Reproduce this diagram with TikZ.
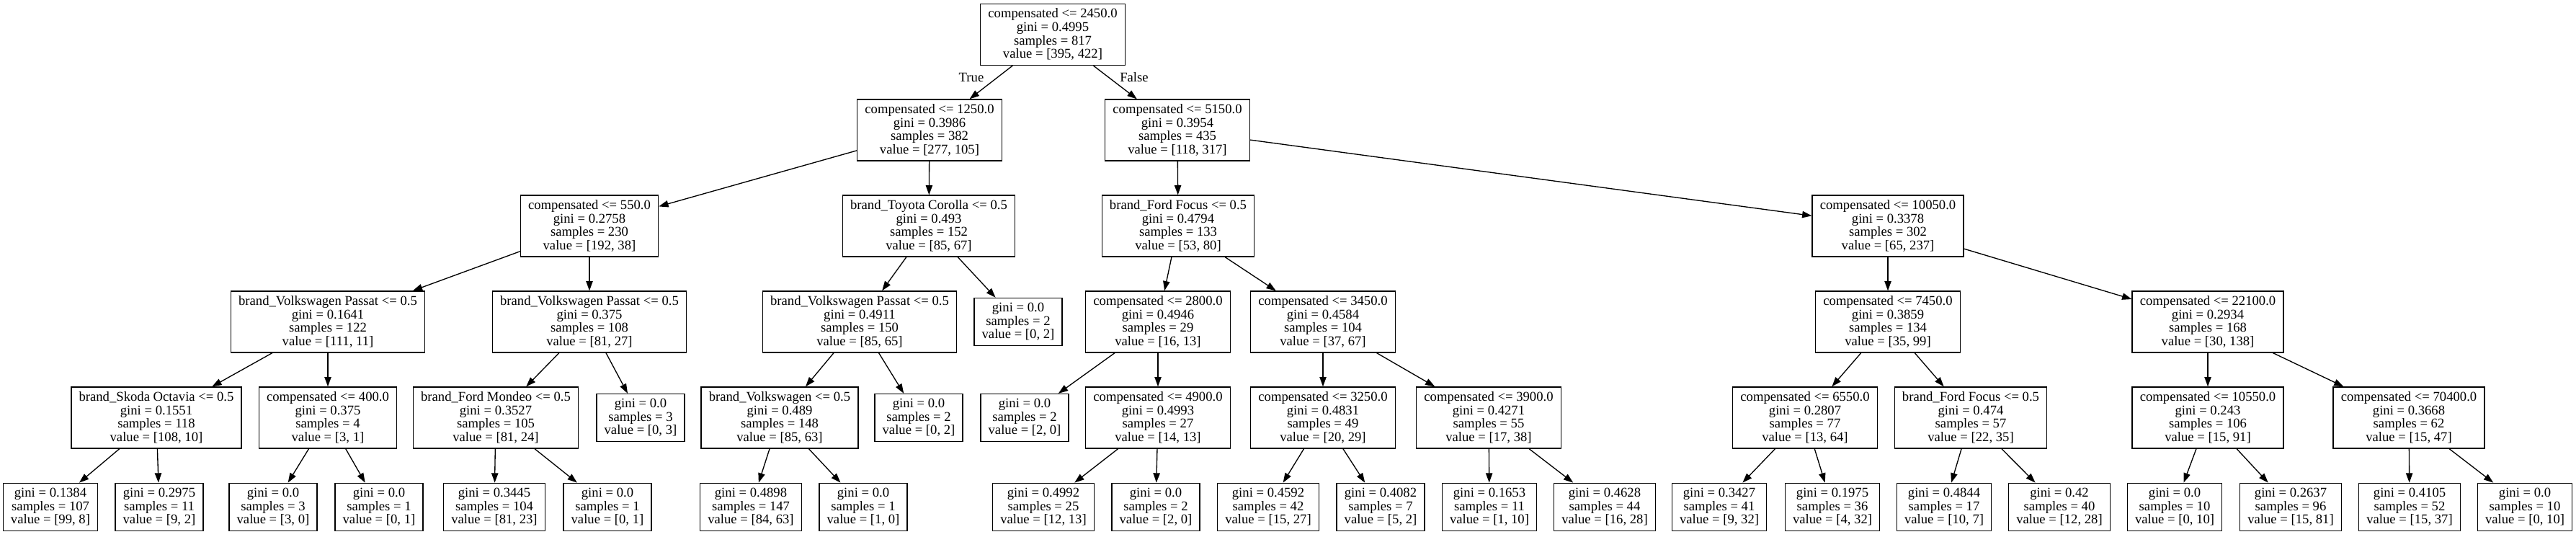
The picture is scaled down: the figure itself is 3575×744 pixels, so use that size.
\documentclass[tikz,border=0pt]{standalone}
\usepackage{fontspec}
\setmainfont{Liberation Serif}
\usetikzlibrary{arrows.meta}
\tikzset{
  splitbox/.style={draw, rectangle, line width=1pt, align=center,
    font=\fontsize{14pt}{14pt}\selectfont, inner xsep=8pt, inner ysep=0pt,
    minimum width=54pt, minimum height=63.75pt},
  leafbox/.style={splitbox, minimum height=49.5pt},
  edge/.style={line width=1pt, -{Triangle[length=10pt,width=7pt]}},
  lbl/.style={font=\fontsize{14pt}{14pt}\selectfont, inner sep=0pt}
}
\begin{document}
\begin{tikzpicture}[x=0.75pt,y=-0.75pt]
\path[fill=white, use as bounding box] (0,0) rectangle (3575,744);
% level 0
\node[splitbox] (root) at (1461,47.8) {compensated <= 2450.0\\gini = 0.4995\\samples = 817\\value = [395, 422]};
% level 1
\node[splitbox] (A) at (1290,180.5) {compensated <= 1250.0\\gini = 0.3986\\samples = 382\\value = [277, 105]};
\node[splitbox] (B) at (1634,180.5) {compensated <= 5150.0\\gini = 0.3954\\samples = 435\\value = [118, 317]};
% level 2
\node[splitbox] (A1) at (818,313.5) {compensated <= 550.0\\gini = 0.2758\\samples = 230\\value = [192, 38]};
\node[splitbox] (A2) at (1289,313.5) {brand\_Toyota Corolla <= 0.5\\gini = 0.493\\samples = 152\\value = [85, 67]};
\node[splitbox] (B1) at (1635,313.5) {brand\_Ford Focus <= 0.5\\gini = 0.4794\\samples = 133\\value = [53, 80]};
\node[splitbox] (B2) at (2620,313.5) {compensated <= 10050.0\\gini = 0.3378\\samples = 302\\value = [65, 237]};
% level 3
\node[splitbox] (A1a) at (455,446.5) {brand\_Volkswagen Passat <= 0.5\\gini = 0.1641\\samples = 122\\value = [111, 11]};
\node[splitbox] (A1b) at (818,446.5) {brand\_Volkswagen Passat <= 0.5\\gini = 0.375\\samples = 108\\value = [81, 27]};
\node[splitbox] (A2a) at (1193,446.5) {brand\_Volkswagen Passat <= 0.5\\gini = 0.4911\\samples = 150\\value = [85, 65]};
\node[leafbox] (A2b) at (1413,446.5) {gini = 0.0\\samples = 2\\value = [0, 2]};
\node[splitbox] (B1a) at (1607,446.5) {compensated <= 2800.0\\gini = 0.4946\\samples = 29\\value = [16, 13]};
\node[splitbox] (B1b) at (1836,446.5) {compensated <= 3450.0\\gini = 0.4584\\samples = 104\\value = [37, 67]};
\node[splitbox] (B2a) at (2620,446.5) {compensated <= 7450.0\\gini = 0.3859\\samples = 134\\value = [35, 99]};
\node[splitbox] (B2b) at (3064,446.5) {compensated <= 22100.0\\gini = 0.2934\\samples = 168\\value = [30, 138]};
% level 4
\node[splitbox] (Sk) at (217,579.5) {brand\_Skoda Octavia <= 0.5\\gini = 0.1551\\samples = 118\\value = [108, 10]};
\node[splitbox] (C400) at (455,579.5) {compensated <= 400.0\\gini = 0.375\\samples = 4\\value = [3, 1]};
\node[splitbox] (Mon) at (688,579.5) {brand\_Ford Mondeo <= 0.5\\gini = 0.3527\\samples = 105\\value = [81, 24]};
\node[leafbox] (L03) at (889,579.5) {gini = 0.0\\samples = 3\\value = [0, 3]};
\node[splitbox] (VW) at (1082,579.5) {brand\_Volkswagen <= 0.5\\gini = 0.489\\samples = 148\\value = [85, 63]};
\node[leafbox] (L02) at (1275,579.5) {gini = 0.0\\samples = 2\\value = [0, 2]};
\node[leafbox] (L20) at (1422,579.5) {gini = 0.0\\samples = 2\\value = [2, 0]};
\node[splitbox] (C4900) at (1607,579.5) {compensated <= 4900.0\\gini = 0.4993\\samples = 27\\value = [14, 13]};
\node[splitbox] (C3250) at (1836,579.5) {compensated <= 3250.0\\gini = 0.4831\\samples = 49\\value = [20, 29]};
\node[splitbox] (C3900) at (2066,579.5) {compensated <= 3900.0\\gini = 0.4271\\samples = 55\\value = [17, 38]};
\node[splitbox] (C6550) at (2505,579.5) {compensated <= 6550.0\\gini = 0.2807\\samples = 77\\value = [13, 64]};
\node[splitbox] (F474) at (2735,579.5) {brand\_Ford Focus <= 0.5\\gini = 0.474\\samples = 57\\value = [22, 35]};
\node[splitbox] (C10550) at (3064,579.5) {compensated <= 10550.0\\gini = 0.243\\samples = 106\\value = [15, 91]};
\node[splitbox] (C70400) at (3343,579.5) {compensated <= 70400.0\\gini = 0.3668\\samples = 62\\value = [15, 47]};
% level 5
\node[leafbox] (l1) at (70,703.3) {gini = 0.1384\\samples = 107\\value = [99, 8]};
\node[leafbox] (l2) at (221,703.3) {gini = 0.2975\\samples = 11\\value = [9, 2]};
\node[leafbox] (l3) at (379,703.3) {gini = 0.0\\samples = 3\\value = [3, 0]};
\node[leafbox] (l4) at (526,703.3) {gini = 0.0\\samples = 1\\value = [0, 1]};
\node[leafbox] (l5) at (686,703.3) {gini = 0.3445\\samples = 104\\value = [81, 23]};
\node[leafbox] (l6) at (843,703.3) {gini = 0.0\\samples = 1\\value = [0, 1]};
\node[leafbox] (l7) at (1042,703.3) {gini = 0.4898\\samples = 147\\value = [84, 63]};
\node[leafbox] (l8) at (1198,703.3) {gini = 0.0\\samples = 1\\value = [1, 0]};
\node[leafbox] (l9) at (1448,703.3) {gini = 0.4992\\samples = 25\\value = [12, 13]};
\node[leafbox] (l10) at (1604,703.3) {gini = 0.0\\samples = 2\\value = [2, 0]};
\node[leafbox] (l11) at (1760,703.3) {gini = 0.4592\\samples = 42\\value = [15, 27]};
\node[leafbox] (l12) at (1916,703.3) {gini = 0.4082\\samples = 7\\value = [5, 2]};
\node[leafbox] (l13) at (2067,703.3) {gini = 0.1653\\samples = 11\\value = [1, 10]};
\node[leafbox] (l14) at (2227,703.3) {gini = 0.4628\\samples = 44\\value = [16, 28]};
\node[leafbox] (l15) at (2386,703.3) {gini = 0.3427\\samples = 41\\value = [9, 32]};
\node[leafbox] (l16) at (2543,703.3) {gini = 0.1975\\samples = 36\\value = [4, 32]};
\node[leafbox] (l17) at (2698,703.3) {gini = 0.4844\\samples = 17\\value = [10, 7]};
\node[leafbox] (l18) at (2858,703.3) {gini = 0.42\\samples = 40\\value = [12, 28]};
\node[leafbox] (l19) at (3018,703.3) {gini = 0.0\\samples = 10\\value = [0, 10]};
\node[leafbox] (l20) at (3179,703.3) {gini = 0.2637\\samples = 96\\value = [15, 81]};
\node[leafbox] (l21) at (3344,703.3) {gini = 0.4105\\samples = 52\\value = [15, 37]};
\node[leafbox] (l22) at (3504,703.3) {gini = 0.0\\samples = 10\\value = [0, 10]};
% edge labels
\node[lbl] (tl) at (1348,107) {True};
\node[lbl] (fl) at (1574,107) {False};
% edges
\foreach \p/\c in {root/A, root/B, A/A1, A/A2, B/B1, B/B2,
  A1/A1a, A1/A1b, A2/A2a, A2/A2b, B1/B1a, B1/B1b, B2/B2a, B2/B2b,
  A1a/Sk, A1a/C400, A1b/Mon, A1b/L03, A2a/VW, A2a/L02, B1a/L20, B1a/C4900,
  B1b/C3250, B1b/C3900, B2a/C6550, B2a/F474, B2b/C10550, B2b/C70400,
  Sk/l1, Sk/l2, C400/l3, C400/l4, Mon/l5, Mon/l6, VW/l7, VW/l8,
  C4900/l9, C4900/l10, C3250/l11, C3250/l12, C3900/l13, C3900/l14,
  C6550/l15, C6550/l16, F474/l17, F474/l18, C10550/l19, C10550/l20,
  C70400/l21, C70400/l22}
  \draw[edge] (\p) -- (\c);
\end{tikzpicture}
\end{document}
